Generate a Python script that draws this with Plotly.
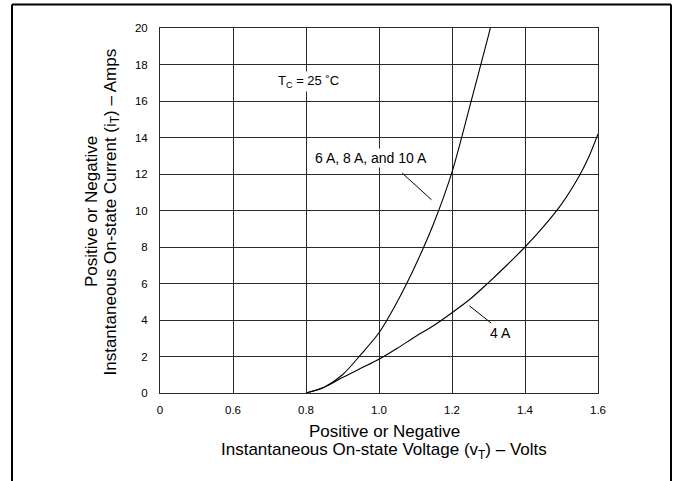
import plotly.graph_objects as go

# ---- data ----
v_high = [0.80, 0.85, 0.90, 0.95, 1.00, 1.05, 1.10, 1.15, 1.20, 1.25, 1.30, 1.305]
i_high = [0.0, 0.32, 1.0, 2.1, 3.3, 5.0, 7.0, 9.3, 12.1, 15.8, 19.6, 20.0]

v_4a = [0.80, 0.85, 0.90, 0.95, 1.00, 1.05, 1.10, 1.15, 1.20, 1.25, 1.30, 1.35, 1.40, 1.45, 1.50, 1.55, 1.575, 1.60]
i_4a = [0.0, 0.32, 0.85, 1.35, 1.85, 2.45, 3.1, 3.7, 4.4, 5.15, 6.05, 7.0, 8.0, 9.1, 10.35, 11.95, 12.95, 14.2]

x_tickvals = [0.4, 0.6, 0.8, 1.0, 1.2, 1.4, 1.6]
x_ticktext = ["0", "0.6", "0.8", "1.0", "1.2", "1.4", "1.6"]
y_tickvals = [0, 2, 4, 6, 8, 10, 12, 14, 16, 18, 20]

# ---- layout constants ----
W, H = 685, 481
ML, MR, MT, MB = 160, 87, 28, 88
PW, PH = W - ML - MR, H - MT - MB
FONT = "Liberation Sans, Arial, Helvetica, sans-serif"
GRID = "#2a2a2a"
TITLE_SIZE = 17


def px_x(px):
    return (px - ML) / PW


def px_y(py):
    return (H - MB - py) / PH


fig = go.Figure()
fig.add_trace(go.Scatter(x=v_high, y=i_high, mode="lines",
                         line=dict(color="black", width=1.1, shape="spline", smoothing=0.8),
                         hoverinfo="skip", showlegend=False))
fig.add_trace(go.Scatter(x=v_4a, y=i_4a, mode="lines",
                         line=dict(color="black", width=1.1, shape="spline", smoothing=0.8),
                         hoverinfo="skip", showlegend=False))

fig.update_layout(
    width=W, height=H,
    margin=dict(l=ML, r=MR, t=MT, b=MB),
    paper_bgcolor="white", plot_bgcolor="white",
    font=dict(family=FONT, color="black", size=11.5),
    showlegend=False,
)
fig.update_xaxes(range=[0.4, 1.6], tickvals=x_tickvals, ticktext=x_ticktext,
                 showgrid=True, gridcolor=GRID, gridwidth=1,
                 showline=True, linecolor=GRID, linewidth=1, mirror=True,
                 zeroline=False, ticks="", ticklabelstandoff=6,
                 tickfont=dict(size=11.5, family=FONT))
fig.update_yaxes(range=[0, 20], tickvals=y_tickvals,
                 showgrid=True, gridcolor=GRID, gridwidth=1,
                 showline=True, linecolor=GRID, linewidth=1, mirror=True,
                 zeroline=False, ticks="", ticklabelstandoff=9,
                 tickfont=dict(size=11.5, family=FONT))

annotations = [
    dict(x=0.806, y=17.06, xref="x", yref="y", text="T<sub>C</sub> = 25 ˚C",
         showarrow=False, bgcolor="white", font=dict(size=13, family=FONT),
         xanchor="center", yanchor="middle", borderpad=1),
    dict(x=0.979, y=12.89, xref="x", yref="y", text="6 A, 8 A, and 10 A",
         showarrow=False, bgcolor="white", font=dict(size=14, family=FONT),
         xanchor="center", yanchor="middle", borderpad=1),
    dict(x=1.3315, y=3.30, xref="x", yref="y", text="4 A",
         showarrow=False, bgcolor="white", font=dict(size=14, family=FONT),
         xanchor="center", yanchor="middle", borderpad=1),
    # x axis title (two lines)
    dict(x=px_x(384), y=px_y(432), xref="paper", yref="paper",
         text="Positive or Negative",
         showarrow=False, font=dict(size=TITLE_SIZE, family=FONT),
         xanchor="center", yanchor="middle"),
    dict(x=px_x(384), y=px_y(451), xref="paper", yref="paper",
         text="Instantaneous On-state Voltage (v<sub>T</sub>) – Volts",
         showarrow=False, font=dict(size=TITLE_SIZE, family=FONT),
         xanchor="center", yanchor="middle"),
    # y axis title (two lines)
    dict(x=px_x(92), y=px_y(212), xref="paper", yref="paper",
         text="Positive or Negative",
         showarrow=False, textangle=-90, font=dict(size=TITLE_SIZE, family=FONT),
         xanchor="center", yanchor="middle"),
    dict(x=px_x(111.5), y=px_y(212), xref="paper", yref="paper",
         text="Instantaneous On-state Current (i<sub>T</sub>) – Amps",
         showarrow=False, textangle=-90, font=dict(size=TITLE_SIZE, family=FONT),
         xanchor="center", yanchor="middle"),
]
fig.update_layout(annotations=annotations)

FL, FR, FT, FB = 12, 671, 4.5, 500
frame_line = dict(color="black", width=2)
shapes = [
    # leader lines
    dict(type="line", xref="x", yref="y", x0=1.0636, y0=12.05, x1=1.1438, y1=10.59,
         line=dict(color="black", width=1)),
    dict(type="line", xref="x", yref="y", x0=1.2475, y0=4.78, x1=1.3075, y1=3.83,
         line=dict(color="black", width=1)),
    # outer frame (four edges)
    dict(type="line", xref="paper", yref="paper", x0=px_x(FL), x1=px_x(FR),
         y0=px_y(FT), y1=px_y(FT), line=frame_line, layer="above"),
    dict(type="line", xref="paper", yref="paper", x0=px_x(FL), x1=px_x(FL),
         y0=px_y(FT), y1=px_y(FB), line=frame_line, layer="above"),
    dict(type="line", xref="paper", yref="paper", x0=px_x(FR), x1=px_x(FR),
         y0=px_y(FT), y1=px_y(FB), line=frame_line, layer="above"),
]
fig.update_layout(shapes=shapes)

fig.write_html("out.html",
               config={"displayModeBar": False},
               post_script="document.body.style.margin='0';document.body.style.overflow='hidden';")
